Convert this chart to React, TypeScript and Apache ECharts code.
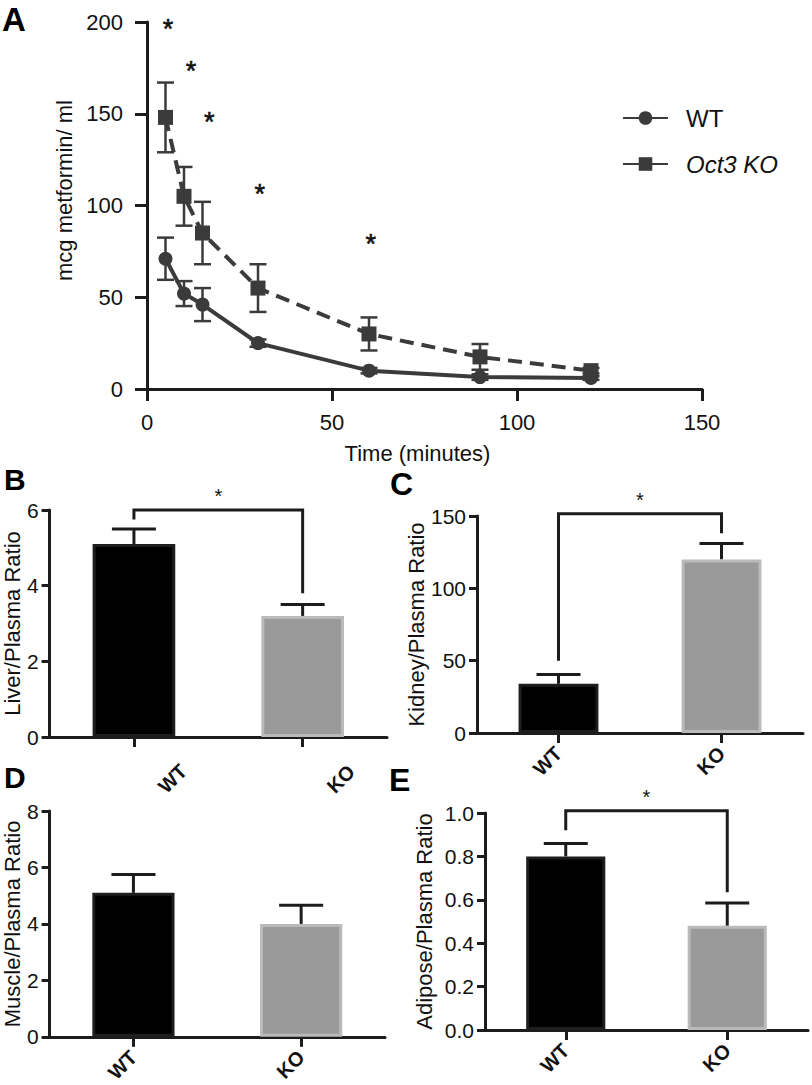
import React, { useEffect, useRef } from "react";
import * as echarts from "echarts";

// ---------- Data ----------
const timePoints = [5, 10, 15, 30, 60, 90, 120];
const wtMean = [71, 52, 46, 25, 10, 6.5, 6];
const wtSem = [11.5, 6.8, 9, 2, 1.5, 1.5, 1];
const koMean = [148, 105, 85, 55, 30, 17.5, 10];
const koSem = [19, 16, 17, 13, 9, 7, 1.5];
const sigX = [5.7, 11.9, 16.8, 30.5, 60.5];
const sigY = [199, 176, 148.5, 109, 81.5];

const groups = ["WT", "KO"];
const liver = [5.1, 3.2];
const liverErr = [0.4, 0.3];
const kidney = [34, 120];
const kidneyErr = [6.5, 11];
const muscle = [5.1, 4.0];
const muscleErr = [0.65, 0.66];
const adipose = [0.8, 0.48];
const adiposeErr = [0.06, 0.105];

// bracket: [top, left end, right end]
const liverBracket = [6.0, 5.75, 3.8];
const kidneyBracket = [151.5, 50, 138];
const adiposeBracket = [1.01, 0.92, 0.635];

const FONT = "'Liberation Sans', Arial, Helvetica, sans-serif";
const INK = "#1c1c1c";
const LINE = "#3b3b3b";

function App() {
  const ref = useRef<HTMLDivElement>(null);

  useEffect(() => {
    if (!ref.current) return;
    const chart = echarts.init(ref.current, undefined, { renderer: "svg" });

    const axisLine = { show: true, lineStyle: { color: INK, width: 3 } };

    const barCatAxis = (gi: number, extraLabel: any = {}) => ({
      type: "category",
      gridIndex: gi,
      data: groups,
      axisLine: { ...axisLine, onZero: false },
      axisTick: { show: true, alignWithLabel: true, length: 10, lineStyle: { color: INK, width: 3 } },
      axisLabel: {
        rotate: 45,
        fontWeight: "bold",
        fontSize: 20,
        color: "#111",
        fontFamily: FONT,
        margin: 17,
        interval: 0,
        ...extraLabel,
      },
      splitLine: { show: false },
    });

    const barValAxis = (gi: number, max: number, interval: number, name: string, nameGap: number, fmt?: any) => ({
      type: "value",
      gridIndex: gi,
      min: 0,
      max,
      interval,
      axisLine,
      axisTick: { show: true, length: 8, lineStyle: { color: INK, width: 3 } },
      axisLabel: { fontSize: 21, color: "#111", fontFamily: FONT, margin: 11, formatter: fmt },
      splitLine: { show: false },
      name,
      nameLocation: "middle",
      nameGap,
      nameTextStyle: { fontSize: 22, color: "#111", fontFamily: FONT },
    });

    const barSeries = (gi: number, vals: number[]) => ({
      type: "bar",
      xAxisIndex: gi,
      yAxisIndex: gi,
      barWidth: "49%",
      data: vals.map((v, i) => ({
        value: v,
        itemStyle:
          i === 0
            ? { color: "#000000", borderColor: "#1e1e1e", borderWidth: 3 }
            : { color: "#9a9a9a", borderColor: "#bababa", borderWidth: 3 },
      })),
      z: 2,
    });

    const barErrSeries = (gi: number, vals: number[], errs: number[]) => ({
      type: "custom",
      xAxisIndex: gi,
      yAxisIndex: gi,
      z: 1,
      data: vals.map((v, i) => [i, v, errs[i]]),
      renderItem: (params: any, api: any) => {
        const c = api.value(0);
        const v = api.value(1);
        const e = api.value(2);
        const base = api.coord([c, v]);
        const top = api.coord([c, v + e]);
        const st = { stroke: INK, lineWidth: 3 };
        return {
          type: "group",
          children: [
            { type: "line", shape: { x1: base[0], y1: base[1], x2: top[0], y2: top[1] }, style: st },
            { type: "line", shape: { x1: top[0] - 22, y1: top[1], x2: top[0] + 22, y2: top[1] }, style: st },
          ],
        };
      },
    });

    const bracketSeries = (gi: number, br: number[]) => ({
      type: "custom",
      xAxisIndex: gi,
      yAxisIndex: gi,
      z: 3,
      clip: false,
      data: [[0, br[0], br[1], br[2]]],
      renderItem: (params: any, api: any) => {
        const topY = api.value(1);
        const lEnd = api.coord([0, api.value(2)]);
        const lTop = api.coord([0, topY]);
        const rTop = api.coord([1, topY]);
        const rEnd = api.coord([1, api.value(3)]);
        return {
          type: "group",
          children: [
            {
              type: "polyline",
              shape: { points: [lEnd, lTop, rTop, rEnd] },
              style: { stroke: INK, lineWidth: 3, fill: null },
            },
            {
              type: "text",
              style: {
                text: "*",
                x: (lTop[0] + rTop[0]) / 2,
                y: lTop[1] - 14,
                align: "center",
                verticalAlign: "middle",
                fontSize: 20,
                fontFamily: FONT,
                fill: "#111",
              },
            },
          ],
        };
      },
    });

    const letter = (t: string, x: number, y: number, size: number) => ({
      type: "text",
      left: x,
      top: y,
      style: { text: t, fontSize: size, fontWeight: "bold", fontFamily: FONT, fill: "#000" },
    });

    const option: any = {
      animation: false,
      backgroundColor: "#ffffff",
      textStyle: { fontFamily: FONT },
      grid: [
        { left: 147, top: 22, width: 555, height: 367 },
        { left: 47, top: 510, width: 340, height: 227 },
        { left: 477, top: 516, width: 326, height: 217 },
        { left: 43, top: 811, width: 342, height: 226 },
        { left: 485, top: 813, width: 323, height: 217 },
      ],
      legend: {
        orient: "vertical",
        left: 617,
        top: 101,
        itemWidth: 45,
        itemHeight: 17,
        itemGap: 22,
        selectedMode: false,
        data: [
          { name: "WT" },
          { name: "Oct3 KO", lineStyle: { type: "solid" } },
        ],
        formatter: (name: string) => (name === "WT" ? "{n|WT}" : "{i|Oct3 KO}"),
        textStyle: {
          rich: {
            n: { fontSize: 24, color: "#111", fontFamily: FONT, padding: [0, 0, 0, 13] },
            i: { fontSize: 24, color: "#111", fontFamily: FONT, fontStyle: "italic", padding: [0, 0, 0, 13] },
          },
        },
      },
      xAxis: [
        {
          type: "value",
          gridIndex: 0,
          min: 0,
          max: 150,
          interval: 50,
          axisLine,
          axisTick: { show: true, length: 12, lineStyle: { color: INK, width: 3 } },
          axisLabel: { fontSize: 22, color: "#111", fontFamily: FONT, margin: 22 },
          splitLine: { show: false },
          name: "Time (minutes)",
          nameLocation: "middle",
          nameGap: 53,
          nameTextStyle: { fontSize: 22, color: "#111", fontFamily: FONT, padding: [0, 14, 0, 0] },
        },
        barCatAxis(1, {
          align: "left",
          verticalAlign: "middle",
          margin: 25,
          lineHeight: 39,
          formatter: (v: string) => "\n\n" + v,
        }),
        barCatAxis(2),
        barCatAxis(3),
        barCatAxis(4),
      ],
      yAxis: [
        {
          type: "value",
          gridIndex: 0,
          min: 0,
          max: 200,
          interval: 50,
          axisLine,
          axisTick: { show: true, length: 12, lineStyle: { color: INK, width: 3 } },
          axisLabel: { fontSize: 22, color: "#111", fontFamily: FONT, margin: 24 },
          splitLine: { show: false },
          name: "mcg metformin/ ml",
          nameLocation: "middle",
          nameGap: 72,
          nameTextStyle: { fontSize: 22, color: "#111", fontFamily: FONT, padding: [0, 0, 0, 30] },
        },
        barValAxis(1, 6, 2, "Liver/Plasma Ratio", 20),
        barValAxis(2, 150, 50, "Kidney/Plasma Ratio", 42),
        barValAxis(3, 8, 2, "Muscle/Plasma Ratio", 24),
        barValAxis(4, 1, 0.2, "Adipose/Plasma Ratio", 50, (v: number) => v.toFixed(1)),
      ],
      series: [
        {
          type: "custom",
          xAxisIndex: 0,
          yAxisIndex: 0,
          z: 1,
          data: timePoints.map((t, i) => [t, wtMean[i], wtSem[i]]).concat(
            timePoints.map((t, i) => [t, koMean[i], koSem[i]])
          ),
          renderItem: (params: any, api: any) => {
            const x = api.value(0);
            const m = api.value(1);
            const e = api.value(2);
            const hi = api.coord([x, m + e]);
            const lo = api.coord([x, m - e]);
            const st = { stroke: LINE, lineWidth: 2.5 };
            return {
              type: "group",
              children: [
                { type: "line", shape: { x1: hi[0], y1: hi[1], x2: lo[0], y2: lo[1] }, style: st },
                { type: "line", shape: { x1: hi[0] - 8.5, y1: hi[1], x2: hi[0] + 8.5, y2: hi[1] }, style: st },
                { type: "line", shape: { x1: lo[0] - 8.5, y1: lo[1], x2: lo[0] + 8.5, y2: lo[1] }, style: st },
              ],
            };
          },
        },
        {
          type: "line",
          name: "WT",
          xAxisIndex: 0,
          yAxisIndex: 0,
          z: 3,
          data: timePoints.map((t, i) => [t, wtMean[i]]),
          symbol: "circle",
          symbolSize: 14,
          lineStyle: { width: 4, color: LINE },
          itemStyle: { color: LINE },
        },
        {
          type: "line",
          name: "Oct3 KO",
          xAxisIndex: 0,
          yAxisIndex: 0,
          z: 3,
          data: timePoints.map((t, i) => [t, koMean[i]]),
          symbol: "rect",
          symbolSize: 15,
          lineStyle: { width: 4, color: LINE, type: [14, 8] },
          itemStyle: { color: LINE },
        },
        {
          type: "custom",
          xAxisIndex: 0,
          yAxisIndex: 0,
          z: 4,
          clip: false,
          data: sigX.map((x, i) => [x, sigY[i]]),
          renderItem: (params: any, api: any) => {
            const p = api.coord([api.value(0), api.value(1)]);
            return {
              type: "text",
              style: {
                text: "*",
                x: p[0],
                y: p[1] + 5,
                align: "center",
                verticalAlign: "middle",
                fontSize: 27,
                fontFamily: FONT,
                fill: "#111",
                stroke: "#111",
                lineWidth: 0.6,
              },
            };
          },
        },
        barSeries(1, liver),
        barErrSeries(1, liver, liverErr),
        bracketSeries(1, liverBracket),
        barSeries(2, kidney),
        barErrSeries(2, kidney, kidneyErr),
        bracketSeries(2, kidneyBracket),
        barSeries(3, muscle),
        barErrSeries(3, muscle, muscleErr),
        barSeries(4, adipose),
        barErrSeries(4, adipose, adiposeErr),
        bracketSeries(4, adiposeBracket),
      ],
      graphic: [
        letter("A", 2, 3, 33),
        letter("B", 4, 464, 30),
        letter("C", 390, 468, 32),
        letter("D", 4, 762, 30),
        letter("E", 389, 764, 32),
      ],
    };

    chart.setOption(option);
    return () => chart.dispose();
  }, []);

  return (
    <div
      ref={ref}
      style={{ position: "absolute", left: 0, top: 0, width: 812, height: 1085, background: "#fff" }}
    />
  );
}

export default App;
